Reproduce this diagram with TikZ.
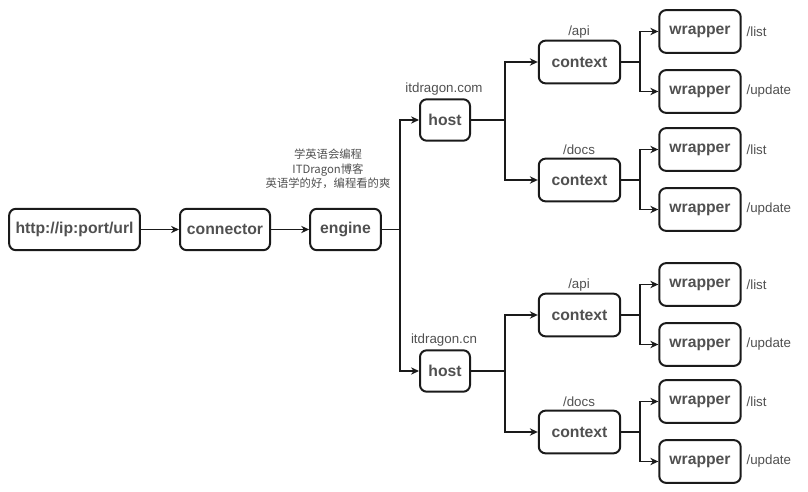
\documentclass[tikz,border=0pt]{standalone}
\usepackage{fontspec}
\setmainfont{Liberation Sans}
\newfontfamily\cjk{Noto Sans CJK SC}
\usetikzlibrary{arrows.meta}
\definecolor{txtgray}{HTML}{505050}
\definecolor{edge}{HTML}{1A1A1A}

\begin{document}
\begin{tikzpicture}[x=0.75pt,y=-0.75pt,
		box/.style={draw=edge,line width=1.5pt,rounded corners=5pt,text=txtgray,
			font=\bfseries\fontsize{11.8}{14}\selectfont,minimum height=31pt,inner xsep=2pt},
		lbl/.style={text=txtgray,font=\fontsize{10}{12}\selectfont,inner sep=1pt},
		link/.style={draw=edge,line width=0.9pt,-{Stealth[length=6pt,width=5.5pt]}}]
		\useasboundingbox (0,0) rectangle (808,492);
		\node[box,minimum width=98pt] (url) at (74.5,229.5) {http://ip:port/url};
		\node[box,minimum width=67.5pt] (conn) at (225,229.5) {connector};
		\node[box,minimum width=53pt] (engine) at (345.5,229.5) {engine};
		\node[lbl,align=center,font=\cjk\fontsize{8.5}{11}\selectfont] (slogan) at (328,169)
			{学英语会编程\\ITDragon博客\\英语学的好，编程看的爽};
		\draw[link] (url) -- (conn);
		\draw[link] (conn) -- (engine);
		\coordinate (ejoin) at (400,229.5);
		\foreach \h/\hy/\site/\ya/\yb in {a/120/itdragon.com/62/180, b/371/itdragon.cn/315/432} {
			\node[box,minimum width=37.5pt] (host\h) at (445,\hy) {host};
			\node[lbl] (site\h) at (444,\hy-31) {\site};
			\draw[link] (engine) -- (ejoin) |- (host\h);
			\coordinate (hjoin\h) at (505,\hy);
			\foreach \c/\cy/\route in {1/\ya/api, 2/\yb/docs} {
				\node[box,minimum width=61pt,minimum height=32pt] (ctx\h\c) at (579.5,\cy) {context};
				\node[lbl] (route\h\c) at (579,\cy-30) {/\route};
				\draw[link] (host\h) -- (hjoin\h) |- (ctx\h\c);
				\coordinate (cjoin\h\c) at (640,\cy);
				\foreach \w/\wy/\op in {1/-30.5/list, 2/29.5/update} {
					\pgfmathsetmacro\wpos{\cy+\wy}
					\node[box,minimum width=61pt,minimum height=32pt] (wrap\h\c\w) at (700,\wpos) {wrapper};
					\node[lbl,anchor=west] (op\h\c\w) at (745,\wpos) {/\op};
					\draw[link] (ctx\h\c) -- (cjoin\h\c) |- (wrap\h\c\w);
				}
			}
		}
\end{tikzpicture}
\end{document}
